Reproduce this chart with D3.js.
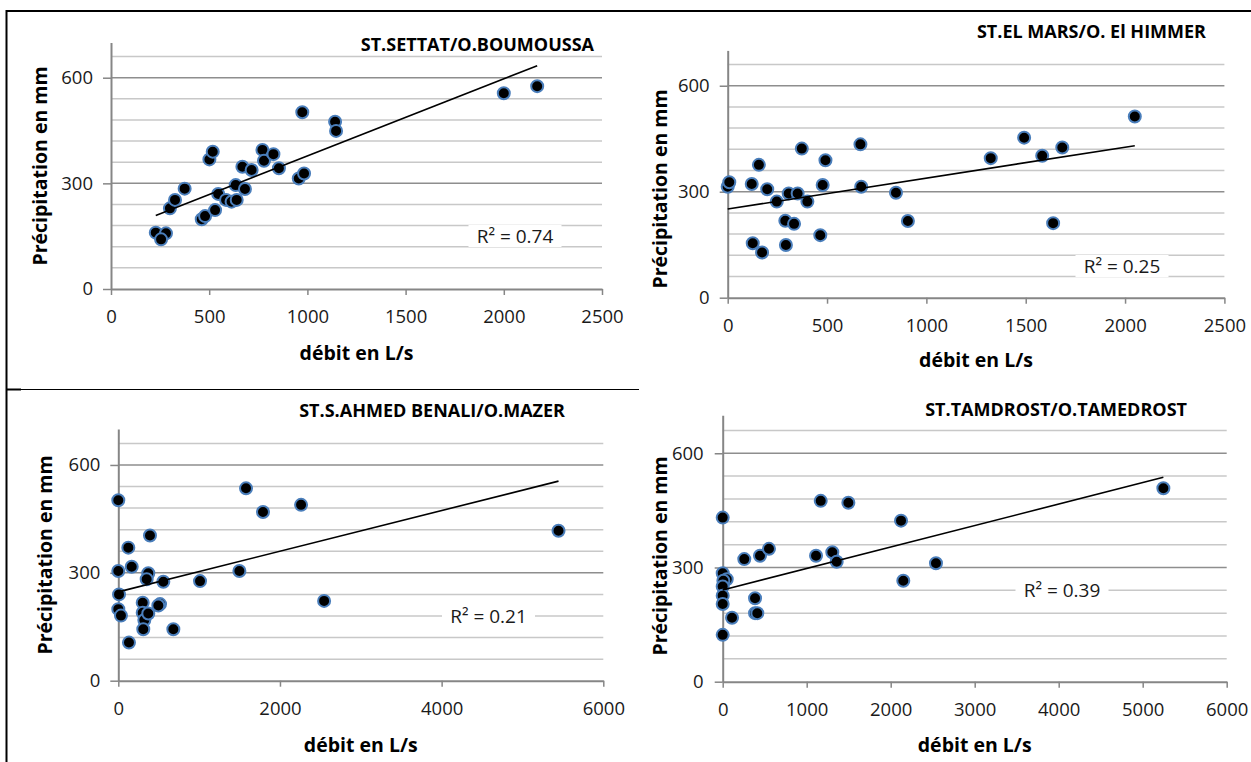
<!DOCTYPE html>
<html>
<head>
<meta charset="utf-8">
<script src="https://cdn.jsdelivr.net/npm/d3@7"></script>
<style>
    body { margin: 0; background: #fff; }
    svg { font-family: "Open Sans", sans-serif; display: block; }
</style>
</head>
<body>
<div id="chart"></div>
<script>
// ---- data ----
// ST.SETTAT/O.BOUMOUSSA
const settatDebit  = [228, 280, 255, 300, 326, 375, 462, 479, 530, 501, 518, 546, 586, 614, 640, 635, 682, 669, 716, 771, 779, 827, 855, 956, 983, 974, 1141, 1146, 2000, 2170];
const settatPrecip = [160, 158, 141, 229, 253, 285, 198, 207, 224, 368, 390, 270, 253, 248, 253, 295, 284, 347, 338, 395, 364, 383, 343, 314, 328, 502, 475, 449, 556, 576];

// ST.EL MARS/O. El HIMMER
const elmarsDebit  = [0, 8, 121, 157, 199, 247, 290, 334, 126, 173, 293, 307, 352, 401, 373, 492, 478, 466, 668, 672, 847, 907, 1324, 1492, 1583, 1684, 1638, 2049];
const elmarsPrecip = [314, 327, 322, 376, 307, 272, 218, 209, 154, 128, 149, 295, 295, 272, 422, 389, 319, 177, 434, 314, 297, 217, 395, 453, 402, 425, 211, 513];

// ST.S.AHMED BENALI/O.MAZER
const mazerDebit  = [0, 0, 9, 0, 33, 124, 166, 392, 371, 351, 557, 302, 302, 322, 371, 309, 516, 495, 681, 132, 1011, 1498, 1580, 1790, 2261, 2546, 5446];
const mazerPrecip = [502, 305, 240, 199, 181, 370, 317, 404, 299, 282, 275, 217, 189, 169, 187, 143, 213, 209, 143, 106, 277, 305, 535, 469, 489, 222, 417];

// ST.TAMDROST/O.TAMEDROST
const tamdrostDebit  = [0, 0, 48, 8, 0, 0, 0, 0, 111, 257, 444, 551, 385, 385, 412, 1111, 1167, 1305, 1357, 1496, 2123, 2150, 2539, 5246];
const tamdrostPrecip = [431, 285, 269, 265, 250, 226, 204, 123, 168, 322, 331, 349, 219, 180, 180, 331, 475, 340, 315, 470, 423, 265, 311, 508];

const stationNames = ["ST.SETTAT/O.BOUMOUSSA", "ST.EL MARS/O. El HIMMER", "ST.S.AHMED BENALI/O.MAZER", "ST.TAMDROST/O.TAMEDROST"];
const trendSlope     = [0.219, 0.0875, 0.05655, 0.0564];
const trendIntercept = [159, 251, 247, 241];
const r2Labels = ["R² = 0.74", "R² = 0.25", "R² = 0.21", "R² = 0.39"];

const xTicksSmall = [0, 500, 1000, 1500, 2000, 2500];
const xTicksMazer = [0, 2000, 4000, 6000];
const xTicksTam   = [0, 1000, 2000, 3000, 4000, 5000, 6000];
const yTicks = [0, 300, 600];
const yMax = 700;
const yGridStep = 60;

const yTitle = "Précipitation en mm";
const xTitle = "débit en L/s";

// ---- one scatter panel ----
class ScatterTrend {
    constructor(svg, layout, title, debit, precip, slope, intercept, r2Label, xTicks) {
        this.svg = svg;
        this.L = layout;
        this.title = title;
        this.data = debit.map((d, i) => ({debit: d, precip: precip[i]}));
        this.slope = slope;
        this.intercept = intercept;
        this.r2Label = r2Label;
        this.xTicks = xTicks;
        this.initVis();
    }

    initVis() {
        let vis = this;
        let L = vis.L;

        vis.x = d3.scaleLinear()
            .domain([0, vis.xTicks[vis.xTicks.length - 1]])
            .range([L.left, L.right]);
        vis.y = d3.scaleLinear()
            .domain([0, yMax])
            .range([L.bottom, L.top]);

        vis.g = vis.svg.append("g");

        // gridlines (every 60, darker on the 300 steps)
        let grid = d3.range(yGridStep, yMax, yGridStep);
        vis.g.selectAll(".grid")
            .data(grid)
            .enter()
            .append("line")
            .attr("class", "grid")
            .attr("x1", L.left)
            .attr("x2", L.right)
            .attr("y1", d => vis.y(d))
            .attr("y2", d => vis.y(d))
            .attr("stroke", d => d % 300 === 0 ? "#8e8e8e" : "#c8c8c8")
            .attr("stroke-width", 1.5);

        // axes
        let yAxis = vis.g.append("g")
            .attr("transform", `translate(${L.left},0)`)
            .call(d3.axisLeft(vis.y).tickValues(yTicks).tickFormat(d3.format("d"))
                .tickSize(8).tickSizeOuter(0));
        let xAxis = vis.g.append("g")
            .attr("transform", `translate(0,${L.bottom})`)
            .call(d3.axisBottom(vis.x).tickValues(vis.xTicks).tickFormat(d3.format("d"))
                .tickSize(6).tickSizeOuter(0));

        [yAxis, xAxis].forEach(a => {
            a.select(".domain").attr("stroke", "#868686").attr("stroke-width", 2);
            a.selectAll(".tick line").attr("stroke", "#868686").attr("stroke-width", 1.5);
            a.selectAll("text")
                .attr("fill", "#1a1a1a")
                .style("font-size", "18.5px")
                .style("font-family", "'Open Sans', sans-serif");
        });
        yAxis.selectAll("text").attr("x", -L.yTickGap);
        xAxis.selectAll("text").attr("y", 28).attr("dy", "0.35em");

        // points
        vis.g.selectAll(".dot")
            .data(vis.data)
            .enter()
            .append("circle")
            .attr("class", "dot")
            .attr("cx", d => vis.x(d.debit))
            .attr("cy", d => vis.y(d.precip))
            .attr("r", 6)
            .attr("fill", "#000")
            .attr("stroke", "#4a7ebb")
            .attr("stroke-width", 2);

        // linear trendline over the data range
        let ext = d3.extent(vis.data, d => d.debit);
        vis.g.append("line")
            .attr("x1", vis.x(ext[0]))
            .attr("x2", vis.x(ext[1]))
            .attr("y1", vis.y(vis.intercept + vis.slope * ext[0]))
            .attr("y2", vis.y(vis.intercept + vis.slope * ext[1]))
            .attr("stroke", "#000")
            .attr("stroke-width", 1.6);

        // R² label with white box
        vis.g.append("rect")
            .attr("x", L.r2X - L.r2W / 2)
            .attr("y", L.r2Y - 11)
            .attr("width", L.r2W)
            .attr("height", 22)
            .attr("fill", "#fff");
        vis.g.append("text")
            .attr("x", L.r2X)
            .attr("y", L.r2Y)
            .attr("dy", "0.35em")
            .attr("text-anchor", "middle")
            .style("font-size", "19px")
            .attr("fill", "#1a1a1a")
            .text(vis.r2Label);

        // station title
        vis.g.append("text")
            .attr("x", L.titleX)
            .attr("y", L.titleY)
            .attr("dy", "0.35em")
            .attr("text-anchor", "end")
            .style("font-size", "18px")
            .style("font-weight", "bold")
            .attr("fill", "#000")
            .text(vis.title);

        // axis titles
        vis.g.append("text")
            .attr("x", (L.left + L.right) / 2)
            .attr("y", L.xLabY)
            .attr("dy", "0.35em")
            .attr("text-anchor", "middle")
            .style("font-size", "19.5px")
            .style("font-weight", "bold")
            .text(xTitle);
        vis.g.append("text")
            .attr("transform", `translate(${L.yLabX},${L.yLabY}) rotate(-90)`)
            .attr("dy", "0.35em")
            .attr("text-anchor", "middle")
            .style("font-size", "19.5px")
            .style("font-weight", "bold")
            .text(yTitle);
    }
}

let svg = d3.select("#chart").append("svg")
    .attr("width", 1251)
    .attr("height", 762);

// frame lines
svg.append("line").attr("x1", 6).attr("x2", 1251).attr("y1", 11).attr("y2", 11)
    .attr("stroke", "#000").attr("stroke-width", 2);
svg.append("line").attr("x1", 6.5).attr("x2", 6.5).attr("y1", 10).attr("y2", 762)
    .attr("stroke", "#000").attr("stroke-width", 2);
svg.append("line").attr("x1", 6).attr("x2", 639).attr("y1", 389.5).attr("y2", 389.5)
    .attr("stroke", "#000").attr("stroke-width", 1.2);
svg.append("line").attr("x1", 6).attr("x2", 21).attr("y1", 389.5).attr("y2", 389.5)
    .attr("stroke", "#000").attr("stroke-width", 2);

const layouts = [
    {left: 111, right: 602, bottom: 289, top: 42.5, yTickGap: 18, titleX: 594, titleY: 45,
        yLabX: 40.5, yLabY: 166, xLabY: 353, r2X: 515, r2Y: 236, r2W: 93},
    {left: 727.7, right: 1224.4, bottom: 297.7, top: 50.4, yTickGap: 18, titleX: 1206, titleY: 32,
        yLabX: 660.5, yLabY: 189, xLabY: 360, r2X: 1122, r2Y: 266, r2W: 93},
    {left: 118.3, right: 603.3, bottom: 680.7, top: 429, yTickGap: 18, titleX: 565, titleY: 411,
        yLabX: 45, yLabY: 555, xLabY: 745, r2X: 488.5, r2Y: 616, r2W: 93},
    {left: 722.7, right: 1226.7, bottom: 681.7, top: 415.2, yTickGap: 19, titleX: 1187, titleY: 410,
        yLabX: 660.5, yLabY: 556, xLabY: 745, r2X: 1062, r2Y: 590, r2W: 93}
];

new ScatterTrend(svg, layouts[0], stationNames[0], settatDebit, settatPrecip, trendSlope[0], trendIntercept[0], r2Labels[0], xTicksSmall);
new ScatterTrend(svg, layouts[1], stationNames[1], elmarsDebit, elmarsPrecip, trendSlope[1], trendIntercept[1], r2Labels[1], xTicksSmall);
new ScatterTrend(svg, layouts[2], stationNames[2], mazerDebit, mazerPrecip, trendSlope[2], trendIntercept[2], r2Labels[2], xTicksMazer);
new ScatterTrend(svg, layouts[3], stationNames[3], tamdrostDebit, tamdrostPrecip, trendSlope[3], trendIntercept[3], r2Labels[3], xTicksTam);
</script>
</body>
</html>
